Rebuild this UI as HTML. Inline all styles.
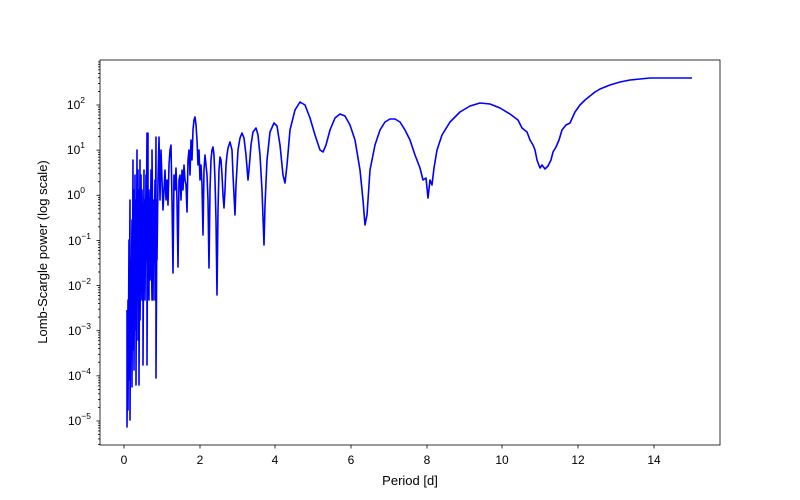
<!DOCTYPE html>
<html><head><meta charset="utf-8"><style>
body{margin:0;background:#fff;}
svg{display:block;font-family:"Liberation Sans","DejaVu Sans",sans-serif;}
</style></head><body>
<svg id="s" width="800" height="500" xmlns="http://www.w3.org/2000/svg">
<rect width="800" height="500" fill="#fff"/>
<g id="ticks" stroke="#000" stroke-width="0.8"></g>
<g font-size="12" fill="#000" text-anchor="middle">
<text x="124" y="464">0</text><text x="200" y="464">2</text><text x="275" y="464">4</text><text x="351" y="464">6</text>
<text x="427" y="464">8</text><text x="502" y="464">10</text><text x="578" y="464">12</text><text x="654" y="464">14</text>
<text x="410" y="485" font-size="13">Period [d]</text>
</g>
<g font-size="12" fill="#000" text-anchor="end">
<text x="85" y="109">10<tspan dy="-6" font-size="8.5">2</tspan></text>
<text x="85" y="154">10<tspan dy="-6" font-size="8.5">1</tspan></text>
<text x="85" y="199">10<tspan dy="-6" font-size="8.5">0</tspan></text>
<text x="91" y="245">10<tspan dy="-6" font-size="8.5">−1</tspan></text>
<text x="91" y="290">10<tspan dy="-6" font-size="8.5">−2</tspan></text>
<text x="91" y="335">10<tspan dy="-6" font-size="8.5">−3</tspan></text>
<text x="91" y="380">10<tspan dy="-6" font-size="8.5">−4</tspan></text>
<text x="91" y="425">10<tspan dy="-6" font-size="8.5">−5</tspan></text>
</g>
<text transform="translate(47,252) rotate(-90)" font-size="13" text-anchor="middle">Lomb-Scargle power (log scale)</text>
<g fill="none" stroke="#0000ff" stroke-width="1.6" stroke-linejoin="round">
<polyline points="127,310 127,427 128,300 128,410 129,240 129,380 130,200 130,420 131,260 131,330 132,220 132,387 133,160 133,350 134,190 134,370 135,175 135,330 136,200 136,385 137,150 137,300 138,170 138,340 139,190 139,385 140,160 140,320 141,240 141,175 142,300 142,190 143,255 143,365 144,170 144,280 145,200 145,300 146,175 146,260 147,133 147,365 148,133 148,260 149,300 149,190 150,255 150,280 151,170 151,230 152,300 152,150 153,260 153,300 154,200 154,260 155,180 155,300 156,137 156,378 157,200 157,260 158,180 159,137 160,200 161,150 162,180 163,210 164,190 165,170 166,200 167,180 168,205 169,165 170,150 171,145 172,200 173,273 174,175 175,190 176,168 177,200 178,267 179,180 180,175 181,200 182,170 183,190 184,165 185,180 186,185 187,212 188,160 189,150 190,175 191,140 192,160 193,130 194,120 195,117 196,125 197,140 198,165 199,150 200,180 201,165 202,185 203,235 204,170 205,155 206,165 207,175 208,200 209,268 210,190 211,160 212,150 213,147 214,155 215,180 216,220 217,295 218,210 219,170 220,157 221,160 222,175 223,195 224,208 225,190 226,165 227,155 228,148 230,142 232,150 233,175 235,215 236,185 238,150 240,138 242,133 244,138 246,155 248,180 249,170 251,145 253,132 256,128 258,135 260,155 262,190 264,245 265,205 267,160 270,132 274,123 277,126 280,145 283,175 285,183 287,165 290,130 295,110 300,102 305,105 310,118 315,135 320,150 323,152 326,145 330,130 335,118 340,114 345,116 350,125 355,140 360,170 363,200 365,225 367,215 370,170 375,145 380,130 385,122 390,119 395,119 400,122 405,130 410,140 415,155 420,168 423,180 426,178 428,198 430,180 432,185 434,168 437,150 442,135 450,122 460,112 470,106 480,103 490,104 500,108 510,114 518,120 522,128 527,132 530,140 533,145 535,150 537,160 540,168 542,165 545,169 548,166 551,160 553,152 556,147 559,140 562,130 566,125 570,123 575,112 580,105 585,100 590,96 595,92 600,89 610,85 620,82 630,80 640,79 650,78 660,78 670,78 680,78 692,78"/>
</g>
<rect x="100" y="60" width="620" height="385" fill="none" stroke="#000" stroke-width="0.8"/>
<script>
var t=document.getElementById('ticks'),ns='http://www.w3.org/2000/svg';
function ln(x1,y1,x2,y2){var l=document.createElementNS(ns,'line');l.setAttribute('x1',x1);l.setAttribute('y1',y1);l.setAttribute('x2',x2);l.setAttribute('y2',y2);t.appendChild(l);}
[124,200,275,351,427,502,578,654].forEach(function(x){ln(x,445,x,448.5);});
var d=45.14,y0=105;
for(var e=-6;e<=3;e++){var yb=y0-(e-2)*d;
 if(yb>=60&&yb<=445){ln(96.5,yb,100,yb);}
 for(var k=2;k<10;k++){var y=yb-Math.log10(k)*d;if(y>=60&&y<=445)ln(98,y,100,y);}
}
</script>
</svg>
</body></html>
